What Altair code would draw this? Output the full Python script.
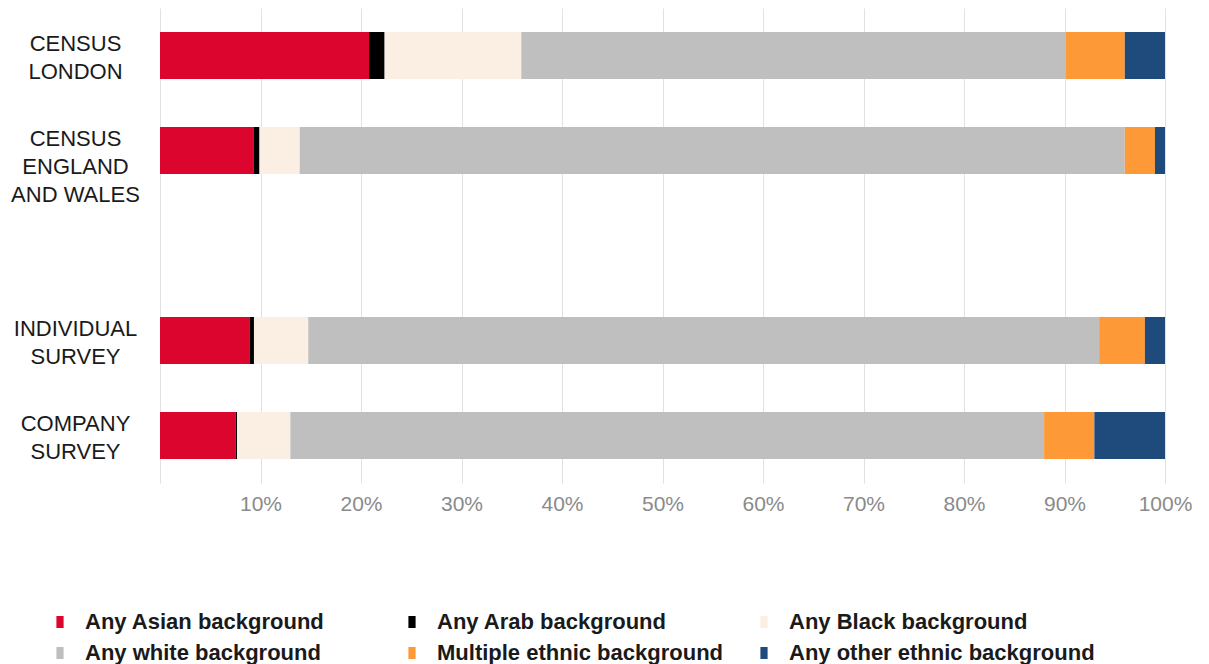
import altair as alt
import pandas as pd

groups = ["CENSUS|LONDON", "CENSUS|ENGLAND|AND WALES", "INDIVIDUAL|SURVEY", "COMPANY|SURVEY"]
y_domain = ["CENSUS|LONDON", "CENSUS|ENGLAND|AND WALES", "_gap_", "INDIVIDUAL|SURVEY", "COMPANY|SURVEY"]
categories = ["Any Asian background", "Any Arab background", "Any Black background",
              "Any white background", "Multiple ethnic background", "Any other ethnic background"]
colors = ["#DC052D", "#000000", "#FBEEE2", "#BFBFBF", "#FD9A37", "#1F4A7C"]

asian = [20.8, 9.35, 8.9, 7.55]
arab = [1.55, 0.55, 0.45, 0.12]
black = [13.6, 4.0, 5.4, 5.3]
white = [54.15, 82.1, 78.7, 75.0]
mixed = [5.9, 3.0, 4.55, 5.0]
other = [4.0, 1.0, 2.0, 7.03]

series = [asian, arab, black, white, mixed, other]
rows = []
for ci, (cat, vals) in enumerate(zip(categories, series)):
    for g, v in zip(groups, vals):
        rows.append({"group": g, "category": cat, "value": v, "ord": ci})
df = pd.DataFrame(rows)

x_ticks = [0, 10, 20, 30, 40, 50, 60, 70, 80, 90, 100]

bars = alt.Chart(df).mark_bar(size=47).encode(
    y=alt.Y("group:N", scale=alt.Scale(domain=y_domain, paddingInner=0.5, paddingOuter=0.25),
            axis=alt.Axis(title=None, ticks=False, domain=False, grid=False,
                          labelExpr="datum.label == '_gap_' ? '' : split(datum.label, '|')",
                          labelAlign="center", labelBaseline="alphabetic", labelOffset=-5,
                          labelPadding=85, labelFont="Liberation Sans", labelFontSize=22,
                          labelColor="#1a1a1a", labelLineHeight=28,
                          minExtent=152, maxExtent=152)),
    x=alt.X("value:Q", stack="zero", scale=alt.Scale(domain=[0, 100], nice=False),
            axis=alt.Axis(title=None, values=x_ticks, ticks=False, domain=False,
                          grid=True, gridColor="#e2e2e2", gridWidth=1,
                          labelExpr="datum.value == 0 ? '' : datum.value + '%'",
                          labelFont="Liberation Sans", labelFontSize=21, labelColor="#8a8a8a",
                          labelPadding=10, labelBaseline="top", labelFlush=False)),
    color=alt.Color("category:N", scale=alt.Scale(domain=categories, range=colors),
                    legend=alt.Legend(title=None, orient="none", legendX=-111, legendY=603,
                                      direction="horizontal",
                                      columns=3, gridAlign="all", columnPadding=10, rowPadding=9,
                                      symbolType="M-0.6,-1L0.6,-1L0.6,1L-0.6,1Z",
                                      symbolSize=144, symbolStrokeWidth=0, labelOffset=14,
                                      labelFont="Liberation Sans", labelFontSize=22,
                                      labelFontWeight="bold", labelColor="#1a1a1a", labelLimit=400)),
    order=alt.Order("ord:Q"),
)

chart = bars.properties(width=1005, height=475, padding=0).configure_view(stroke=None)

chart.save("out.html", embed_options={"renderer": "svg", "actions": False})
